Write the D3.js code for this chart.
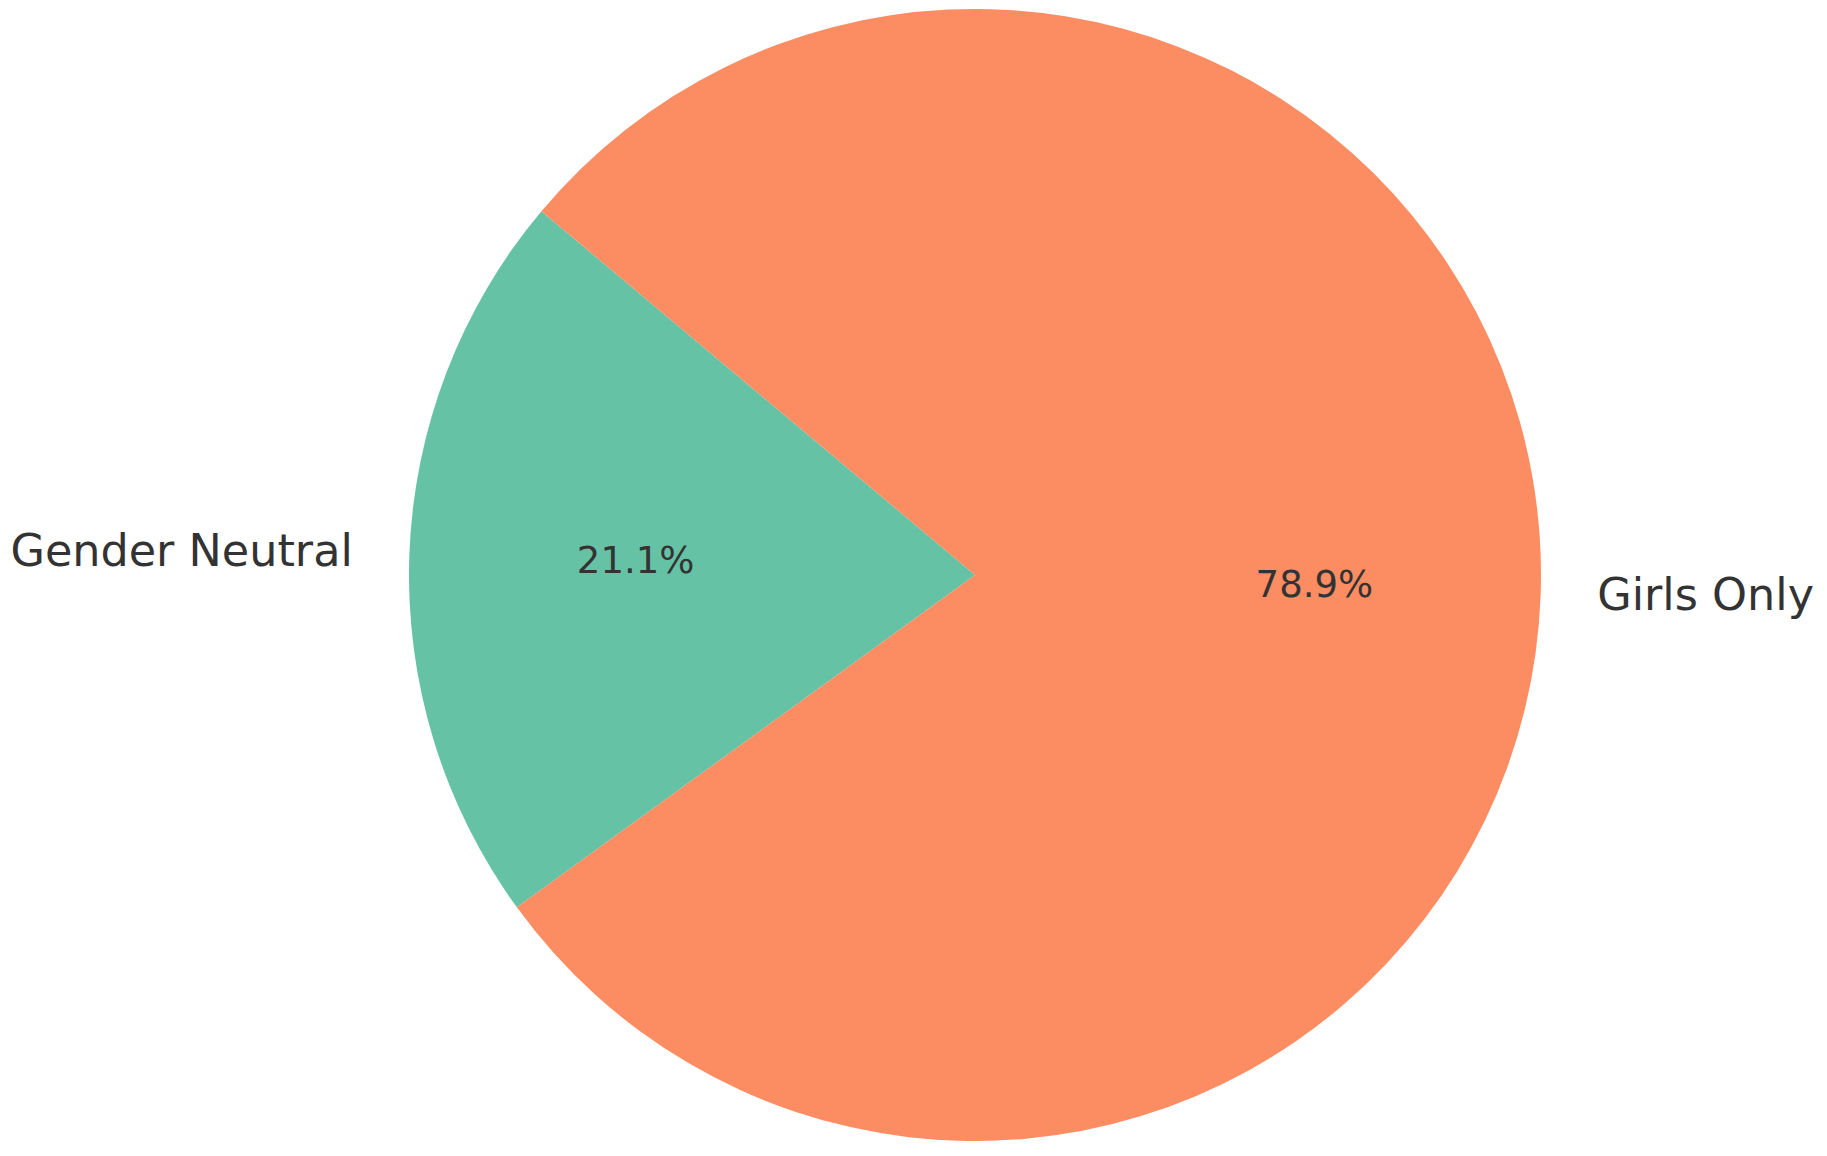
<!DOCTYPE html>
<html>
<head>
<meta charset="utf-8">
<script src="https://cdn.jsdelivr.net/npm/d3@7"></script>
<style>
  html, body { margin: 0; padding: 0; background: #ffffff; }
  svg { display: block; }
</style>
</head>
<body>
<svg id="chart" width="1827" height="1156"></svg>
<script>
const categories = ["Gender Neutral", "Girls Only"];
const values = [21.1, 78.9];
const colors = ["#66c2a5", "#fc8d62"];

const W = 1827, H = 1156;
const cx = 975, cy = 575, R = 566;
const startDeg = 140; // matplotlib-style start angle, counterclockwise

const svg = d3.select("#chart");
const g = svg.append("g").attr("transform", `translate(${cx},${cy})`);

const toRad = d => d * Math.PI / 180;
const start = toRad(90 - startDeg);
const pie = d3.pie().sort(null).value(d => d.v)
  .startAngle(start).endAngle(start - 2 * Math.PI);

const data = categories.map((c, i) => ({ c, v: values[i], col: colors[i] }));
const arcs = pie(data);

const arc = d3.arc().innerRadius(0).outerRadius(R);
g.selectAll("path.slice").data(arcs).enter().append("path")
  .attr("class", "slice")
  .attr("d", arc)
  .attr("fill", d => d.data.col);

const mid = d => (d.startAngle + d.endAngle) / 2;
const pos = (d, f) => [Math.sin(mid(d)) * R * f, -Math.cos(mid(d)) * R * f];

// percentage labels
g.selectAll("text.pct").data(arcs).enter().append("text")
  .attr("class", "pct")
  .attr("x", d => pos(d, 0.6)[0])
  .attr("y", d => pos(d, 0.6)[1])
  .attr("dy", "0.28em")
  .attr("text-anchor", "middle")
  .attr("font-family", "DejaVu Sans")
  .attr("font-size", 37)
  .attr("fill", "#333333")
  .text(d => d3.format(".1f")(d.data.v) + "%");

// category labels
g.selectAll("text.lbl").data(arcs).enter().append("text")
  .attr("class", "lbl")
  .attr("x", d => pos(d, 1.1)[0])
  .attr("y", d => pos(d, 1.1)[1])
  .attr("dy", "0.3em")
  .attr("text-anchor", d => pos(d, 1.1)[0] < 0 ? "end" : "start")
  .attr("font-family", "DejaVu Sans")
  .attr("font-size", 44.5)
  .attr("fill", "#333333")
  .text(d => d.data.c);
</script>
</body>
</html>
